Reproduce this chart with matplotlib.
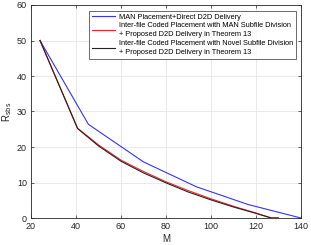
import matplotlib
matplotlib.use("Agg")
import matplotlib.pyplot as plt

plt.rcParams['font.family'] = ['Liberation Sans', 'DejaVu Sans']

M_man = [24, 45.5, 70, 93.5, 116.5, 140]
R_man = [50, 26.4, 15.8, 8.8, 3.8, 0]

M_coded = [24, 40.7, 50, 60, 70, 80, 90, 100, 110, 120, 126.8, 130]
R_red = [50, 25.3, 20.6, 16.3, 13.1, 10.2, 7.7, 5.4, 3.3, 1.4, 0, 0]
R_black = [50, 25.2, 20.3, 16.0, 12.7, 9.9, 7.3, 5.1, 3.1, 1.3, 0, 0]

labels = ["MAN Placement+Direct D2D Delivery",
          "Inter-file Coded Placement with MAN Subfile Division\n+ Proposed D2D Delivery in Theorem 13",
          "Inter-file Coded Placement with Novel Subfile Division\n+ Proposed D2D Delivery in Theorem 13"]

fig = plt.figure(figsize=(3.11, 2.45), dpi=100)
ax = fig.add_axes([31/311, 1-218/245, 270/311, 213/245])
ax.plot(M_man, R_man, color='#3333ff', lw=0.8, label=labels[0])
ax.plot(M_coded, R_red, color='#ff2020', lw=0.8, label=labels[1])
ax.plot(M_coded, R_black, color='#222222', lw=0.8, label=labels[2])

ax.set_xlim(20, 140)
ax.set_ylim(0, 60)
ax.set_xticks(range(20, 141, 20))
ax.set_yticks(range(0, 61, 10))
ax.grid(True, color='#e6e6e6', lw=0.6)
ax.set_axisbelow(True)
ax.tick_params(direction='in', length=2.5, width=0.5, labelsize=6.5, colors='#262626', top=True, right=True, pad=3)
for s in ax.spines.values():
    s.set_linewidth(0.6)
    s.set_color('#262626')
ax.set_xlabel('M', fontsize=7, color='#262626', labelpad=2)
ax.set_ylabel(r'R$_{\rm sbs}$', fontsize=7, color='#262626', labelpad=2)

leg = ax.legend(loc='upper right', fontsize=5.3, frameon=True, fancybox=False,
                edgecolor='#262626', handlelength=3.2, borderpad=0.35,
                labelspacing=0.2, handletextpad=0.5, borderaxespad=0.0,
                bbox_to_anchor=(296/311, 1-11/245), bbox_transform=fig.transFigure)
for t in leg.get_texts():
    t.set_linespacing(1.45)
leg.get_frame().set_linewidth(0.6)

fig.savefig('out.png', dpi=100)
